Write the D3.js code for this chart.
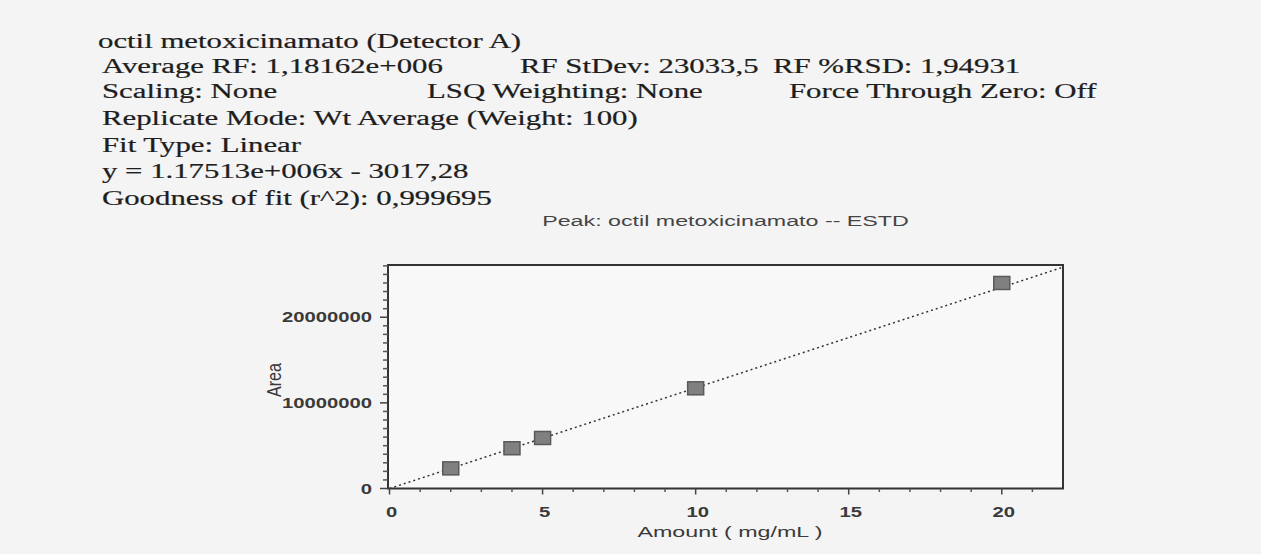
<!DOCTYPE html>
<html>
<head>
<meta charset="utf-8">
<script src="https://cdn.jsdelivr.net/npm/d3@7"></script>
<style>
  html, body { margin: 0; padding: 0; background: #f4f4f4; }
  svg { display: block; }
</style>
</head>
<body>
<script>
// ---- data ----
const amounts = [2, 4, 5, 10, 20];
const areas = [2350000, 4700000, 5900000, 11700000, 24000000];
const fitX = [0, 22];
const fitY = [-3017.28, 25849843];
const xTicks = [0, 5, 10, 15, 20];
const xMinorTicks = [1,2,3,4,6,7,8,9,11,12,13,14,16,17,18,19,21];
const yTicks = [0, 10000000, 20000000];
const yMinorTicks = [1,2,3,4,5,6,7,8,9,11,12,13,14,15,16,17,18,19,21,22,23,24,25,26].map(v => v * 1000000);
const headerTexts = [
  ["octil metoxicinamato (Detector A)"],
  ["Average RF: 1,18162e+006", "RF StDev: 23033,5", "RF %RSD: 1,94931"],
  ["Scaling: None", "LSQ Weighting: None", "Force Through Zero: Off"],
  ["Replicate Mode: Wt Average (Weight: 100)"],
  ["Fit Type: Linear"],
  ["y = 1.17513e+006x - 3017,28"],
  ["Goodness of fit (r^2): 0,999695"]
];
const chartTitle = "Peak: octil metoxicinamato -- ESTD";
const xLabel = "Amount ( mg/mL )";
const yLabel = "Area";

// ---- layout ----
const W = 1261, H = 554;
const headerX = [[98], [102, 520, 773], [102, 427, 789], [102], [102], [102], [102]];
const headerY = [48, 73, 98, 125, 152, 178, 205];
const plot = { left: 388, right: 1063, top: 265, bottom: 488.5 };

const svg = d3.select("body").append("svg").attr("width", W).attr("height", H);
svg.append("rect").attr("width", W).attr("height", H).attr("fill", "#f4f4f4");

// header text (serif, stretched horizontally like the scan)
const serifSx = 1.54;
headerTexts.forEach((line, i) => {
  line.forEach((t, j) => {
    svg.append("text")
      .attr("transform", `translate(${headerX[i][j]},${headerY[i]}) scale(${serifSx},1)`)
      .attr("font-family", "'Liberation Serif', 'Times New Roman', serif")
      .attr("font-size", 20)
      .attr("fill", "#1e1e1e").attr("stroke", "#1e1e1e").attr("stroke-width", 0.2)
      .text(t);
  });
});

const x = d3.scaleLinear().domain([-0.05, 22]).range([plot.left, plot.right]);
const y = d3.scaleLinear().domain([0, 26100000]).range([plot.bottom, plot.top]);

const sansSx = 1.55;
const sans = "'Liberation Sans', Arial, sans-serif";

// title
svg.append("text")
  .attr("transform", `translate(${(plot.left + plot.right) / 2},226) scale(${sansSx},1)`)
  .attr("text-anchor", "middle")
  .attr("font-family", sans).attr("font-size", 15).attr("fill", "#444")
  .text(chartTitle);

// frame
svg.append("rect")
  .attr("x", plot.left).attr("y", plot.top)
  .attr("width", plot.right - plot.left).attr("height", plot.bottom - plot.top)
  .attr("fill", "#f8f8f8").attr("stroke", "#333").attr("stroke-width", 2);

// y axis ticks
const gy = svg.append("g");
gy.selectAll("line.minor").data(yMinorTicks).enter().append("line")
  .attr("x1", plot.left - 5).attr("x2", plot.left)
  .attr("y1", d => y(d)).attr("y2", d => y(d))
  .attr("stroke", "#555").attr("stroke-width", 1.5);
gy.selectAll("line.major").data(yTicks).enter().append("line")
  .attr("x1", plot.left - 8).attr("x2", plot.left)
  .attr("y1", d => y(d)).attr("y2", d => y(d))
  .attr("stroke", "#444").attr("stroke-width", 1.5);
gy.selectAll("text").data(yTicks).enter().append("text")
  .attr("transform", d => `translate(372,${y(d) + 5}) scale(1.35,1)`)
  .attr("text-anchor", "end")
  .attr("font-family", sans).attr("font-size", 15).attr("font-weight", "bold").attr("fill", "#3a3a3a")
  .text(d => d3.format("d")(d));

// x axis ticks
const gx = svg.append("g");
gx.selectAll("line.minor").data(xMinorTicks).enter().append("line")
  .attr("x1", d => x(d)).attr("x2", d => x(d))
  .attr("y1", plot.bottom).attr("y2", plot.bottom + 3.5)
  .attr("stroke", "#555").attr("stroke-width", 1.5);
gx.selectAll("line.major").data(xTicks).enter().append("line")
  .attr("x1", d => x(d)).attr("x2", d => x(d))
  .attr("y1", plot.bottom).attr("y2", plot.bottom + 6)
  .attr("stroke", "#444").attr("stroke-width", 1.5);
gx.selectAll("text").data(xTicks).enter().append("text")
  .attr("transform", d => `translate(${x(d) + 2},517) scale(1.35,1)`)
  .attr("text-anchor", "middle")
  .attr("font-family", sans).attr("font-size", 15).attr("font-weight", "bold").attr("fill", "#3a3a3a")
  .text(d => d);

// axis labels
svg.append("text")
  .attr("transform", `translate(730,537) scale(${sansSx},1)`)
  .attr("text-anchor", "middle")
  .attr("font-family", sans).attr("font-size", 15).attr("fill", "#3a3a3a")
  .text(xLabel);
svg.append("text")
  .attr("transform", `translate(281,380) scale(1.3,1) rotate(-90)`)
  .attr("text-anchor", "middle")
  .attr("font-family", sans).attr("font-size", 16).attr("fill", "#3a3a3a")
  .text(yLabel);

// fit line
svg.append("path")
  .datum(fitX.map((v, i) => [v, fitY[i]]))
  .attr("d", d3.line().x(d => x(d[0])).y(d => y(d[1])))
  .attr("fill", "none").attr("stroke", "#333").attr("stroke-width", 1.5)
  .attr("stroke-dasharray", "2,3");

// markers
const mw = 16, mh = 13;
svg.selectAll("rect.pt").data(amounts).enter().append("rect")
  .attr("class", "pt")
  .attr("x", d => x(d) - mw / 2)
  .attr("y", (d, i) => y(areas[i]) - mh / 2)
  .attr("width", mw).attr("height", mh)
  .attr("fill", "#808080").attr("stroke", "#5a5a5a").attr("stroke-width", 1.5);
</script>
</body>
</html>
